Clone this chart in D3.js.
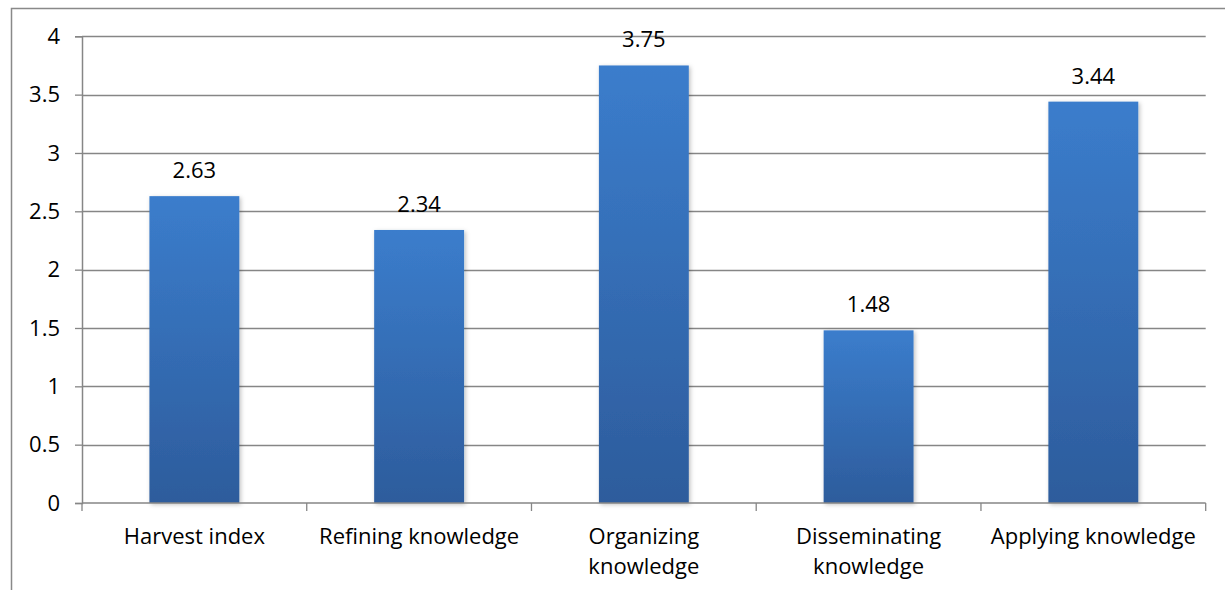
<!DOCTYPE html>
<html>
<head>
<meta charset="utf-8">
<script src="https://cdn.jsdelivr.net/npm/d3@7"></script>
<style>
  html, body { margin: 0; padding: 0; background: #fff; }
  svg { display: block; }
  text { font-family: "Open Sans", "Noto Sans", sans-serif; fill: #000; }
</style>
</head>
<body>
<svg id="chart" width="1225" height="590"></svg>
<script>
const categories = ["Harvest index", "Refining knowledge", "Organizing knowledge", "Disseminating knowledge", "Applying knowledge"];
const categoryLines = [["Harvest index"], ["Refining knowledge"], ["Organizing", "knowledge"], ["Disseminating", "knowledge"], ["Applying knowledge"]];
const values = [2.63, 2.34, 3.75, 1.48, 3.44];
const valueLabels = ["2.63", "2.34", "3.75", "1.48", "3.44"];
const yTicks = [0, 0.5, 1, 1.5, 2, 2.5, 3, 3.5, 4];
const yTickLabels = ["0", "0.5", "1", "1.5", "2", "2.5", "3", "3.5", "4"];

const svg = d3.select("#chart");
const plotLeft = 82, plotRight = 1205.7, plotTop = 36.3, plotBottom = 503;
const FS = 22;

const x = d3.scaleBand().domain(categories).range([plotLeft, plotRight]).paddingInner(0.6).paddingOuter(0.3);
const y = d3.scaleLinear().domain([0, 4]).range([plotBottom, plotTop]);

// outer frame
svg.append("rect").attr("x", 11.5).attr("y", 8.5).attr("width", 1400).attr("height", 800)
  .attr("fill", "none").attr("stroke", "#898989").attr("stroke-width", 1.5);

const defs = svg.append("defs");
const grad = defs.append("linearGradient").attr("id", "barGrad").attr("x1", 0).attr("y1", 0).attr("x2", 0).attr("y2", 1);
grad.append("stop").attr("offset", "0%").attr("stop-color", "#3b7dcc");
grad.append("stop").attr("offset", "100%").attr("stop-color", "#2d5c9c");
const f = defs.append("filter").attr("id", "shadow").attr("x", "-10%").attr("y", "-10%").attr("width", "130%").attr("height", "130%");
f.append("feDropShadow").attr("dx", 1.5).attr("dy", 1.5).attr("stdDeviation", 2).attr("flood-color", "#000").attr("flood-opacity", 0.25);

// gridlines
svg.append("g").selectAll("line").data(yTicks.filter(d => d > 0)).join("line")
  .attr("x1", plotLeft).attr("x2", plotRight)
  .attr("y1", d => Math.round(y(d)) + 0.5).attr("y2", d => Math.round(y(d)) + 0.5)
  .attr("stroke", "#868686").attr("stroke-width", 1.3);

// bars
svg.append("g").selectAll("rect").data(values).join("rect")
  .attr("x", (d, i) => x(categories[i]))
  .attr("width", x.bandwidth())
  .attr("y", d => y(d))
  .attr("height", d => y(0) - y(d))
  .attr("fill", "url(#barGrad)")
  .attr("filter", "url(#shadow)");

// y axis
const yAxis = d3.axisLeft(y).tickValues(yTicks).tickFormat((d, i) => yTickLabels[i]).tickSize(7).tickPadding(15);
const ya = svg.append("g").attr("transform", `translate(${plotLeft},0)`).call(yAxis);
ya.select(".domain").attr("stroke", "#868686").attr("stroke-width", 1.5);
ya.selectAll(".tick line").attr("stroke", "#868686").attr("stroke-width", 1.3);
ya.selectAll(".tick text").attr("font-size", FS).attr("font-family", "Open Sans").attr("fill", "#000");

// x axis baseline with category boundary ticks
const boundaries = d3.range(categories.length + 1).map(i => plotLeft + i * (plotRight - plotLeft) / categories.length);
svg.append("line").attr("x1", plotLeft).attr("x2", plotRight).attr("y1", plotBottom).attr("y2", plotBottom)
  .attr("stroke", "#868686").attr("stroke-width", 1.5);
svg.append("g").selectAll("line").data(boundaries).join("line")
  .attr("x1", d => d).attr("x2", d => d).attr("y1", plotBottom).attr("y2", plotBottom + 8)
  .attr("stroke", "#868686").attr("stroke-width", 1.3);

// x labels
const xl = svg.append("g").selectAll("text").data(categoryLines).join("text")
  .attr("x", (d, i) => x(categories[i]) + x.bandwidth() / 2)
  .attr("y", 544)
  .attr("text-anchor", "middle")
  .attr("font-size", FS);
xl.each(function(lines) {
  const t = d3.select(this);
  const cx = t.attr("x");
  lines.forEach((ln, j) => {
    t.append("tspan").attr("x", cx).attr("dy", j === 0 ? 0 : 29.5).text(ln);
  });
});

// value labels
svg.append("g").selectAll("text").data(values).join("text")
  .attr("x", (d, i) => x(categories[i]) + x.bandwidth() / 2)
  .attr("y", d => y(d) - 18)
  .attr("text-anchor", "middle")
  .attr("font-size", FS)
  .text((d, i) => valueLabels[i]);
</script>
</body>
</html>
